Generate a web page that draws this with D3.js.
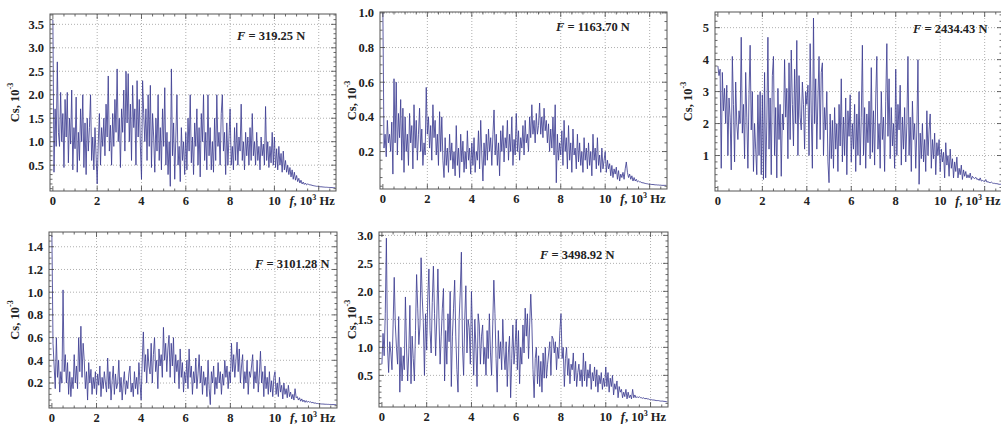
<!DOCTYPE html>
<html>
<head>
<meta charset="utf-8">
<script src="https://cdn.jsdelivr.net/npm/d3@7.9.0/dist/d3.min.js"></script>
<style>
  body { margin: 0; background: #fff; }
  svg { display: block; }
  text { font-family: "Liberation Serif", "DejaVu Serif", serif; font-weight: bold; fill: #222; }
</style>
</head>
<body>
<svg id="chart" width="1001" height="424"></svg>
<script>
// spectra sampled every 0.05 kHz starting at 0 (values in 10^-3)
const df = 0.05;

const cs319 = [
  3.6, 0.35, 1.7, 0.9, 2.7, 1.2, 0.9, 2.05, 1.0, 1.6, 0.45, 1.9, 1.1, 2.05, 0.55, 1.5, 0.95, 2.1, 0.4, 1.3,
  0.85, 1.95, 0.35, 1.2, 0.6, 1.7, 1.0, 2.0, 0.45, 1.4, 0.3, 1.5, 0.8, 1.3, 2.0, 0.6, 1.1, 0.4, 1.3, 0.7,
  0.1, 1.0, 1.6, 0.5, 1.3, 0.9, 1.5, 0.7, 1.8, 1.1, 2.4, 0.8, 1.35, 0.5, 1.6, 0.9, 1.9, 1.2, 2.55, 1.0,
  1.5, 0.45, 1.7, 1.2, 2.1, 0.8, 2.5, 1.4, 2.45, 1.0, 1.8, 0.6, 2.2, 1.3, 1.7, 0.5, 2.3, 1.1, 1.9, 0.9,
  0.2, 2.3, 1.6, 1.0, 1.7, 0.6, 2.0, 0.9, 2.2, 0.45, 1.6, 1.1, 0.35, 1.5, 0.8, 2.0, 0.6, 1.3, 0.4, 1.7,
  0.9, 2.15, 0.5, 1.2, 0.3, 1.0, 0.05, 2.55, 0.7, 1.4, 0.2, 1.1, 2.0, 0.5, 0.9, 0.15, 1.3, 0.6, 1.0, 0.3,
  1.2, 0.4, 1.5, 0.8, 2.0, 0.55, 1.1, 0.3, 1.4, 0.9, 1.7, 0.5, 1.3, 0.25, 1.6, 1.0, 2.0, 0.6, 1.2, 0.4,
  2.0, 0.7, 1.3, 0.4, 1.0, 0.35, 1.5, 0.6, 2.0, 0.9, 1.2, 0.5, 1.6, 2.0, 0.8, 1.2, 0.3, 1.4, 0.5, 1.1,
  1.7, 0.5, 0.9, 0.4, 1.3, 0.6, 1.4, 0.5, 1.1, 0.8, 1.8, 0.6, 1.0, 0.4, 1.2, 0.7, 1.1, 0.5, 1.3, 0.6,
  1.6, 0.7, 1.0, 0.5, 1.2, 0.6, 0.9, 0.4, 1.1, 0.7, 0.95, 0.5, 1.75, 0.6, 1.0, 0.45, 0.9, 0.55, 1.2, 0.5,
  1.1, 0.45, 0.85, 0.4, 0.9, 0.5, 0.75, 0.35, 0.8, 0.4, 0.6, 0.35, 0.5, 0.3, 0.45, 0.25, 0.4, 0.2, 0.35, 0.18,
  0.28, 0.15, 0.22, 0.12, 0.18, 0.1, 0.14, 0.09, 0.12, 0.08,
  0.1, 0.09, 0.08, 0.08, 0.07, 0.065, 0.06, 0.055, 0.05, 0.05, 0.045, 0.04, 0.04, 0.038, 0.035, 0.033,
  0.03, 0.03, 0.028, 0.026, 0.025, 0.024, 0.022, 0.02, 0.02, 0.02
];

const cs1163 = [
  1.0, 0.22, 0.3, 0.17, 0.38, 0.25, 0.3, 0.2, 0.37, 0.07, 0.62, 0.25, 0.6, 0.18, 0.42, 0.28, 0.5, 0.15, 0.45, 0.08,
  0.4, 0.2, 0.3, 0.12, 0.42, 0.25, 0.35, 0.1, 0.47, 0.22, 0.38, 0.15, 0.3, 0.45, 0.2, 0.33, 0.12, 0.25, 0.18, 0.57,
  0.3, 0.4, 0.22, 0.35, 0.15, 0.47, 0.28, 0.38, 0.18, 0.3, 0.12, 0.43, 0.2, 0.4, 0.15, 0.05, 0.28, 0.12, 0.22, 0.08,
  0.3, 0.15, 0.25, 0.1, 0.2, 0.06, 0.35, 0.12, 0.22, 0.05, 0.3, 0.14, 0.26, 0.08, 0.2, 0.1, 0.32, 0.15, 0.22, 0.07,
  0.25, 0.12, 0.28, 0.08, 0.2, 0.15, 0.32, 0.1, 0.38, 0.18, 0.03, 0.25, 0.12, 0.3, 0.15, 0.33, 0.2, 0.28, 0.12, 0.3,
  0.44, 0.18, 0.3, 0.12, 0.25, 0.06, 0.32, 0.2, 0.35, 0.14, 0.28, 0.22, 0.38, 0.15, 0.3, 0.2, 0.4, 0.12, 0.27, 0.18,
  0.42, 0.2, 0.32, 0.15, 0.28, 0.22, 0.35, 0.18, 0.38, 0.25, 0.3, 0.2, 0.4, 0.28, 0.47, 0.3, 0.38, 0.25, 0.42, 0.3,
  0.35, 0.48, 0.3, 0.4, 0.28, 0.45, 0.32, 0.38, 0.25, 0.36, 0.2, 0.33, 0.22, 0.4, 0.18, 0.47, 0.02, 0.3, 0.15, 0.25,
  0.18, 0.32, 0.12, 0.38, 0.2, 0.28, 0.1, 0.35, 0.15, 0.25, 0.08, 0.33, 0.18, 0.22, 0.1, 0.3, 0.14, 0.25, 0.12, 0.2,
  0.08, 0.28, 0.15, 0.22, 0.1, 0.25, 0.12, 0.2, 0.06, 0.3, 0.15, 0.22, 0.1, 0.28, 0.12, 0.18, 0.08, 0.22, 0.1, 0.15,
  0.2, 0.08, 0.15, 0.1, 0.13, 0.06, 0.12, 0.05, 0.1, 0.07, 0.11, 0.04, 0.09, 0.03, 0.07, 0.05, 0.08, 0.04, 0.1, 0.14,
  0.08, 0.05, 0.07, 0.04, 0.06, 0.03, 0.05, 0.03, 0.04, 0.025,
  0.03, 0.025, 0.025, 0.02, 0.02, 0.018, 0.016, 0.015, 0.014, 0.012, 0.012, 0.011, 0.01, 0.01, 0.009, 0.008,
  0.008, 0.007, 0.007, 0.006, 0.006, 0.005, 0.005, 0.005, 0.005, 0.005
];

const cs2434 = [
  3.8, 3.5, 3.7, 0.6, 3.6, 2.4, 3.1, 2.0, 3.2, 1.0, 2.8, 2.2, 0.55, 4.1, 2.6, 0.8, 3.3, 2.0, 1.5, 2.4,
  2.0, 4.7, 1.7, 2.6, 0.9, 3.6, 2.2, 0.6, 2.9, 4.45, 1.8, 3.0, 0.5, 2.0, 1.2, 0.4, 2.9, 1.0, 3.0, 0.4,
  2.9, 0.25, 3.6, 0.3, 2.0, 4.7, 1.2, 2.8, 0.4, 3.5, 4.1, 1.0, 2.5, 0.3, 3.1, 1.5, 2.6, 0.35, 2.3, 1.8,
  4.0, 2.2, 3.1, 0.9, 3.9, 1.5, 4.3, 2.6, 1.3, 3.7, 2.0, 4.6, 1.0, 3.5, 2.2, 1.8, 3.3, 2.6, 1.2, 3.0,
  2.6, 3.2, 1.0, 4.5, 2.3, 0.6, 5.3, 2.0, 3.4, 1.2, 2.8, 4.1, 1.5, 3.6, 3.9, 1.0, 2.5, 1.8, 3.0, 0.8,
  0.15, 2.3, 0.9, 2.1, 0.6, 2.5, 1.2, 2.0, 0.5, 2.6, 1.3, 3.4, 0.8, 2.2, 1.0, 2.8, 0.4, 2.4, 1.6, 2.9,
  0.8, 2.0, 1.2, 2.6, 0.5, 2.3, 1.0, 3.0, 0.7, 2.2, 4.45, 1.0, 2.5, 0.6, 2.3, 1.4, 2.7, 0.9, 3.75, 1.1,
  2.4, 0.7, 2.8, 4.1, 1.2, 2.0, 0.6, 3.0, 1.5, 2.2, 0.5, 2.7, 4.5, 1.6, 3.4, 0.9, 2.5, 1.3, 2.0, 0.6,
  3.7, 1.0, 2.6, 1.8, 3.2, 0.7, 2.2, 1.2, 2.5, 0.8, 2.0, 4.1, 1.0, 2.2, 0.5, 2.7, 1.5, 2.0, 0.6, 1.8,
  4.0, 0.1, 1.7, 0.9, 2.0, 0.8, 1.5, 0.5, 2.4, 1.0, 1.8, 2.3, 0.6, 1.5, 0.9, 1.7, 0.4, 1.4, 1.0, 1.5,
  0.5, 1.2, 0.8, 1.1, 0.3, 1.4, 0.7, 1.0, 0.35, 1.2, 0.6, 0.9, 0.3, 0.8, 0.5, 0.95, 0.3, 0.6, 0.4, 0.7,
  0.25, 0.55, 0.35, 0.5, 0.3, 0.4, 0.3, 0.45, 0.25, 0.35,
  0.3, 0.28, 0.32, 0.25, 0.27, 0.22, 0.3, 0.2, 0.22, 0.2, 0.18, 0.25, 0.17, 0.18, 0.16, 0.15,
  0.17, 0.14, 0.13, 0.13, 0.12, 0.12, 0.11, 0.1, 0.1, 0.1
];

const cs3101 = [
  1.5, 0.55, 0.35, 0.15, 0.6, 0.25, 0.4, 0.12, 0.3, 0.2, 1.02, 0.3, 0.45, 0.2, 0.38, 0.1, 0.3, 0.08, 0.25, 0.15,
  0.45, 0.2, 0.35, 0.15, 0.6, 0.3, 0.7, 0.25, 0.55, 0.4, 0.15, 0.3, 0.05, 0.38, 0.2, 0.32, 0.1, 0.25, 0.15, 0.3,
  0.1, 0.28, 0.18, 0.35, 0.08, 0.25, 0.15, 0.3, 0.2, 0.12, 0.42, 0.15, 0.3, 0.05, 0.22, 0.35, 0.1, 0.28, 0.15, 0.2,
  0.4, 0.12, 0.25, 0.05, 0.2, 0.3, 0.1, 0.22, 0.15, 0.28, 0.35, 0.12, 0.2, 0.08, 0.3, 0.15, 0.25, 0.1, 0.38, 0.2,
  0.05, 0.4, 0.65, 0.3, 0.45, 0.2, 0.5, 0.35, 0.28, 0.55, 0.2, 0.45, 0.6, 0.3, 0.4, 0.15, 0.5, 0.35, 0.45, 0.25,
  0.69, 0.4, 0.55, 0.3, 0.5, 0.62, 0.25, 0.55, 0.35, 0.6, 0.2, 0.45, 0.3, 0.4, 0.15, 0.5, 0.25, 0.38, 0.12, 0.3,
  0.2, 0.4, 0.15, 0.5, 0.25, 0.35, 0.1, 0.3, 0.2, 0.42, 0.15, 0.28, 0.45, 0.2, 0.35, 0.1, 0.3, 0.18, 0.25, 0.08,
  0.4, 0.15, 0.01, 0.3, 0.2, 0.35, 0.1, 0.25, 0.15, 0.38, 0.2, 0.3, 0.1, 0.28, 0.18, 0.4, 0.25, 0.35, 0.15, 0.3,
  0.2, 0.55, 0.3, 0.45, 0.25, 0.4, 0.56, 0.3, 0.5, 0.2, 0.35, 0.45, 0.15, 0.3, 0.2, 0.4, 0.1, 0.3, 0.25, 0.35,
  0.45, 0.15, 0.3, 0.2, 0.4, 0.12, 0.28, 0.48, 0.2, 0.3, 0.08, 0.35, 0.15, 0.25, 0.1, 0.3, 0.12, 0.22, 0.08, 0.25,
  0.3, 0.1, 0.2, 0.08, 0.25, 0.12, 0.18, 0.06, 0.2, 0.1, 0.15, 0.07, 0.18, 0.08, 0.12, 0.06, 0.1, 0.05, 0.15, 0.07,
  0.08, 0.05, 0.07, 0.04, 0.06, 0.035, 0.05, 0.03, 0.045, 0.03,
  0.04, 0.03, 0.035, 0.025, 0.03, 0.022, 0.025, 0.02, 0.02, 0.018, 0.018, 0.016, 0.015, 0.015, 0.014, 0.013,
  0.013, 0.012, 0.012, 0.011, 0.011, 0.01, 0.01, 0.01, 0.01, 0.01
];

const cs3498 = [
  0.7, 1.25, 0.85, 1.6, 2.95, 1.0, 0.55, 1.1, 0.9, 0.6, 1.4, 2.25, 1.4, 1.0, 0.7, 1.55, 0.2, 1.0, 0.4, 0.85,
  0.6, 1.9, 1.0, 0.4, 0.9, 1.75, 0.35, 1.2, 0.8, 0.4, 1.3, 2.3, 1.7, 1.05, 1.4, 2.6, 1.9, 1.45, 0.5, 1.6,
  0.95, 1.9, 2.4, 1.3, 0.9, 1.8, 2.45, 1.6, 0.85, 1.5, 2.4, 1.5, 0.7, 1.2, 1.7, 2.05, 0.4, 1.3, 0.7, 1.6,
  1.1, 2.0, 0.3, 1.2, 1.7, 2.2, 1.2, 0.6, 0.2, 1.5, 2.0, 2.7, 1.0, 0.5, 1.5, 2.1, 0.9, 1.5, 1.35, 0.7,
  2.0, 1.2, 0.5, 1.5, 1.0, 0.3, 1.6, 1.4, 0.7, 1.2, 1.4, 0.7, 1.0, 0.5, 1.3, 0.8, 1.6, 0.9, 0.5, 1.4,
  2.2, 1.6, 0.8, 0.2, 1.3, 0.8, 1.1, 0.6, 1.5, 0.9, 0.6, 1.1, 0.3, 0.9, 1.2, 0.1, 0.8, 1.4, 0.7, 1.0,
  1.5, 0.6, 1.3, 0.35, 1.0, 0.7, 1.4, 0.9, 1.7, 1.2, 1.6, 0.8, 1.4, 1.95, 1.4, 0.6, 0.1, 0.8, 1.0, 0.35,
  0.85, 0.3, 0.75, 0.2, 0.9, 0.45, 1.0, 0.45, 0.7, 0.9, 1.1, 0.5, 1.2, 1.15, 0.9, 1.1, 0.6, 1.0, 0.8, 1.3,
  1.6, 0.8, 1.0, 0.3, 0.8, 1.0, 0.5, 0.8, 0.35, 0.7, 0.6, 0.9, 0.4, 0.75, 0.3, 0.55, 0.7, 0.4, 0.6, 0.3,
  0.9, 0.4, 0.75, 0.3, 0.6, 0.45, 0.7, 0.25, 0.55, 0.4, 0.65, 0.3, 0.6, 0.2, 0.5, 0.35, 0.55, 0.25, 0.45, 0.3,
  0.65, 0.3, 0.55, 0.2, 0.45, 0.3, 0.5, 0.15, 0.35, 0.25, 0.4, 0.1, 0.3, 0.2, 0.25, 0.1, 0.2, 0.12, 0.25, 0.08,
  0.2, 0.1, 0.15, 0.08, 0.25, 0.1, 0.15, 0.1, 0.12, 0.1,
  0.12, 0.1, 0.1, 0.09, 0.1, 0.08, 0.09, 0.08, 0.08, 0.07, 0.07, 0.065, 0.06, 0.06, 0.055, 0.05,
  0.05, 0.05, 0.045, 0.04, 0.04, 0.04, 0.035, 0.035, 0.03, 0.03
];

const xTickLabels = [0, 2, 4, 6, 8, 10];
const xGrid = [2, 4, 6, 8, 10, 12];

// layout of each panel (frame box in px)
const panels = [
  { vals: cs319, force: '319.25', left: 50, top: 14, w: 286, h: 177,
    yDom: [-0.05, 3.72], yMajor: [0.5, 1, 1.5, 2, 2.5, 3, 3.5], yMinor: 0.1, fmt: '.1f',
    ylabX: 15, fx: 237, fy: 40 },
  { vals: cs1163, force: '1163.70', left: 380, top: 12, w: 287, h: 177,
    yDom: [-0.016, 1.005], yMajor: [0.2, 0.4, 0.6, 0.8, 1.0], yMinor: 0.05, fmt: '.1f',
    ylabX: 352, fx: 556, fy: 31 },
  { vals: cs2434, force: '2434.43', left: 715, top: 12, w: 287, h: 179,
    yDom: [-0.11, 5.49], yMajor: [1, 2, 3, 4, 5], yMinor: 0.2, fmt: 'd',
    ylabX: 688, fx: 913, fy: 33 },
  { vals: cs3101, force: '3101.28', left: 49, top: 232, w: 288, h: 176,
    yDom: [-0.02, 1.53], yMajor: [0.2, 0.4, 0.6, 0.8, 1.0, 1.2, 1.4], yMinor: 0.05, fmt: '.1f',
    ylabX: 15, fx: 255, fy: 268 },
  { vals: cs3498, force: '3498.92', left: 379, top: 232, w: 289, h: 175,
    yDom: [-0.065, 3.06], yMajor: [0.5, 1, 1.5, 2, 2.5, 3], yMinor: 0.1, fmt: '.1f',
    ylabX: 352, fx: 540, fy: 259 }
];

const svg = d3.select('#chart');
const xDomain = [-0.13, 12.78];

panels.forEach((p, idx) => {
  const g = svg.append('g').attr('transform', `translate(${p.left},${p.top})`);
  const x = d3.scaleLinear().domain(xDomain).range([0, p.w]);
  const y = d3.scaleLinear().domain(p.yDom).range([p.h, 0]);

  // dotted grid
  g.append('g').selectAll('line').data(p.yMajor).join('line')
    .attr('x1', 0).attr('x2', p.w)
    .attr('y1', d => y(d)).attr('y2', d => y(d))
    .attr('stroke', '#9a9a9a').attr('stroke-width', 0.8).attr('stroke-dasharray', '1,2');
  g.append('g').selectAll('line').data(xGrid).join('line')
    .attr('x1', d => x(d)).attr('x2', d => x(d))
    .attr('y1', 0).attr('y2', p.h)
    .attr('stroke', '#9a9a9a').attr('stroke-width', 0.8).attr('stroke-dasharray', '1,2');

  // spectrum
  const clipId = 'clip' + idx;
  g.append('clipPath').attr('id', clipId)
    .append('rect').attr('width', p.w).attr('height', p.h);
  const line = d3.line()
    .x((d, i) => x(i * df))
    .y(d => y(d));
  g.append('path')
    .datum(p.vals)
    .attr('clip-path', `url(#${clipId})`)
    .attr('fill', 'none')
    .attr('stroke', '#3e3e92')
    .attr('stroke-width', 0.85)
    .attr('stroke-linejoin', 'round')
    .attr('d', line);

  // frame ticks (inward, all four sides)
  const xMinor = d3.range(0, 12.76, 0.5);
  const yMinor = d3.range(0, p.yDom[1], p.yMinor);
  const isMajorX = v => Math.abs(v / 2 - Math.round(v / 2)) < 1e-6;
  const isMajorY = v => p.yMajor.some(m => Math.abs(m - v) < 1e-6);
  const tk = g.append('g').attr('stroke', '#444').attr('stroke-width', 0.8);
  xMinor.forEach(v => {
    const len = isMajorX(v) ? 5 : 2.5;
    tk.append('line').attr('x1', x(v)).attr('x2', x(v)).attr('y1', p.h).attr('y2', p.h - len);
    tk.append('line').attr('x1', x(v)).attr('x2', x(v)).attr('y1', 0).attr('y2', len);
  });
  yMinor.forEach(v => {
    const len = isMajorY(v) ? 5 : 2.5;
    tk.append('line').attr('x1', 0).attr('x2', len).attr('y1', y(v)).attr('y2', y(v));
    tk.append('line').attr('x1', p.w).attr('x2', p.w - len).attr('y1', y(v)).attr('y2', y(v));
  });

  g.append('rect')
    .attr('width', p.w).attr('height', p.h)
    .attr('fill', 'none').attr('stroke', '#555').attr('stroke-width', 1);

  // tick labels
  const fmt = d3.format(p.fmt);
  g.append('g').selectAll('text').data(p.yMajor).join('text')
    .attr('x', -6).attr('y', d => y(d)).attr('dy', '0.35em')
    .attr('text-anchor', 'end').attr('font-size', 12.5)
    .text(d => fmt(d));
  g.append('g').selectAll('text').data(xTickLabels).join('text')
    .attr('x', d => x(d)).attr('y', p.h + 14)
    .attr('text-anchor', 'middle').attr('font-size', 12.5)
    .text(d => d);

  // x axis title
  const xt = g.append('text')
    .attr('x', x(10) + 15).attr('y', p.h + 14)
    .attr('font-size', 12.5);
  xt.append('tspan').attr('font-style', 'italic').text('f');
  xt.append('tspan').text(', 10');
  xt.append('tspan').attr('font-size', 8).attr('dy', -5).text('3');
  xt.append('tspan').attr('dy', 5).text(' Hz');

  // y axis title
  const yt = svg.append('text')
    .attr('transform', `translate(${p.ylabX},${p.top + p.h / 2}) rotate(-90)`)
    .attr('text-anchor', 'middle').attr('dominant-baseline', 'central')
    .attr('font-size', 12.5);
  yt.append('tspan').text('Cs, 10');
  yt.append('tspan').attr('font-size', 8).attr('dy', -5).text('-3');

  // force annotation
  const ft = svg.append('text')
    .attr('x', p.fx).attr('y', p.fy)
    .attr('font-size', 12.5);
  ft.append('tspan').attr('font-style', 'italic').text('F');
  ft.append('tspan').text(` = ${p.force} N`);
});
</script>
</body>
</html>
